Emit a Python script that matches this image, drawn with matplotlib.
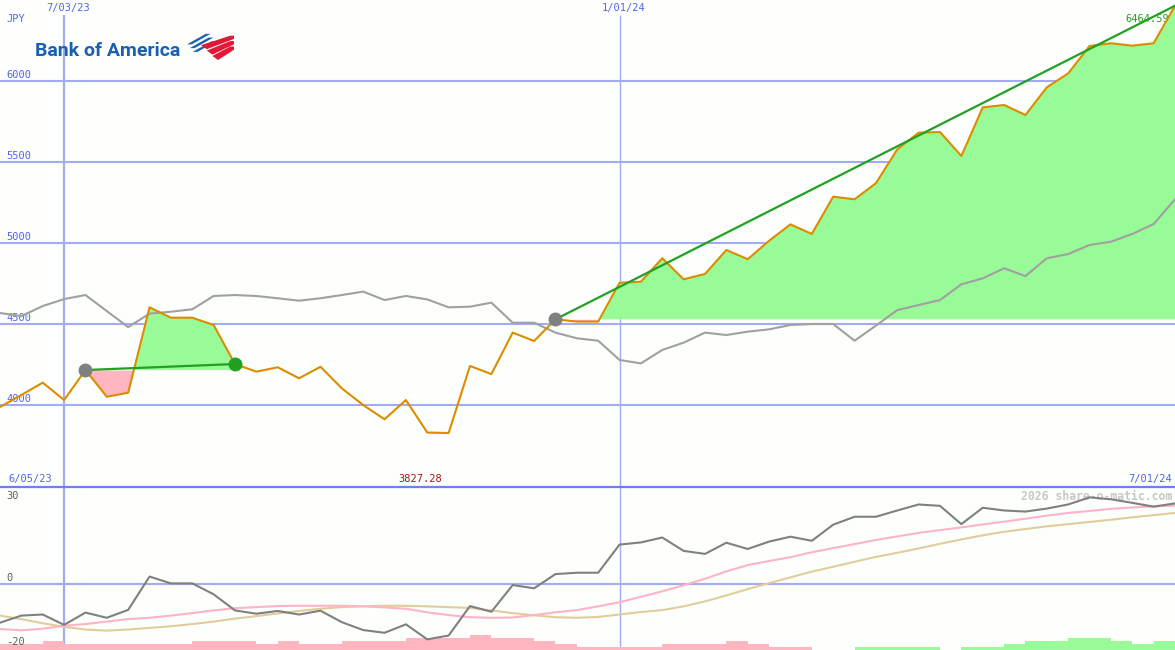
import numpy as np
import matplotlib
matplotlib.use("Agg")
import matplotlib.pyplot as plt
from matplotlib.lines import Line2D
from matplotlib.patches import Polygon

# weekly closes, 6/12/23 .. 7/01/24 (JPY)
price = [3988, 4062, 4138, 4031, 4216, 4051, 4076, 4603, 4539, 4539,
         4494, 4253, 4206, 4233, 4165, 4236, 4103, 4000, 3912, 4031,
         3830, 3827.28, 4241, 4191, 4447, 4395, 4529, 4515, 4515, 4755,
         4761, 4906, 4776, 4809, 4957, 4900, 5014, 5115, 5056, 5286,
         5270, 5369, 5578, 5681, 5685, 5537, 5837, 5852, 5790, 5961,
         6047, 6216, 6233, 6218, 6233, 6464.59]
# comparison index rescaled to the price axis
index_cmp = [4568, 4549, 4611, 4654, 4679, 4580, 4481, 4564, 4576, 4591,
             4673, 4679, 4673, 4659, 4644, 4659, 4679, 4700, 4648, 4673,
             4652, 4603, 4607, 4632, 4508, 4508, 4447, 4412, 4397, 4278,
             4257, 4340, 4385, 4447, 4432, 4453, 4467, 4494, 4500, 4500,
             4397, 4490, 4586, 4617, 4648, 4745, 4782, 4844, 4796, 4906,
             4932, 4988, 5008, 5056, 5117, 5270]
# lower panel
momentum = [-14.3, -11.7, -11.3, -15.1, -10.6, -12.5, -9.6, 2.6, 0.1, 0.1,
            -3.9, -9.8, -11.0, -10.0, -11.3, -9.9, -14.1, -17.0, -18.0, -14.9,
            -20.4, -19.0, -8.2, -10.3, -0.5, -1.7, 3.5, 4.0, 4.0, 14.3,
            15.1, 16.9, 12.0, 10.9, 15.0, 12.7, 15.4, 17.2, 15.7, 21.6,
            24.5, 24.5, 26.8, 29.0, 28.5, 21.8, 27.8, 26.8, 26.4, 27.5,
            29.0, 31.6, 30.9, 29.6, 28.2, 29.4]
avg_fast = [-16.6, -17.1, -16.5, -15.4, -14.8, -13.9, -13.0, -12.5, -11.7, -10.8,
            -9.8, -9.0, -8.6, -8.2, -8.1, -8.1, -8.1, -8.3, -8.7, -9.2,
            -10.5, -11.5, -12.3, -12.5, -12.4, -11.5, -10.5, -9.7, -8.3, -6.8,
            -4.8, -2.8, -0.6, 1.8, 4.5, 6.8, 8.3, 9.7, 11.5, 13.0,
            14.5, 16.0, 17.3, 18.6, 19.6, 20.6, 21.7, 22.7, 23.8, 24.9,
            25.9, 26.6, 27.4, 27.9, 28.3, 28.6]
avg_slow = [-11.7, -13.0, -14.5, -15.8, -16.8, -17.2, -16.8, -16.2, -15.6, -14.8,
            -13.9, -12.8, -11.9, -10.9, -10.0, -9.2, -8.6, -8.3, -8.1, -8.1,
            -8.3, -8.6, -8.9, -9.8, -10.8, -11.6, -12.3, -12.5, -12.2, -11.3,
            -10.4, -9.7, -8.3, -6.5, -4.3, -2.0, 0.2, 2.3, 4.4, 6.2,
            8.0, 9.8, 11.3, 12.9, 14.6, 16.2, 17.7, 19.0, 20.0, 21.0,
            21.8, 22.6, 23.4, 24.3, 25.1, 25.9]
bar_level = [-2, -2, -3, -2, -2, -2, -2, -2, -2, -3, -3, -3, -2, -3, -2, -2,
             -3, -3, -3, -4, -4, -4, -5, -4, -4, -3, -2, -1, -1, -1, -1, -2,
             -2, -2, -3, -2, -1, -1, 0, 0, 1, 1, 1, 1, 0, 1, 1, 2, 3, 3,
             4, 4, 3, 2, 3]

price_ticks = [4000, 4500, 5000, 5500, 6000]
date_marks = [(3, "7/03/23"), (29, "1/01/24")]
trend_segments = [(4, 11), (26, 55)]

bg = "#fcfffc"
grid = "#a3acf2"
txt_blue = "#5563ee"
mono = "DejaVu Sans Mono"

x = np.arange(len(price))
price = np.array(price)

fig = plt.figure(figsize=(11.75, 6.5), dpi=100)
fig.patch.set_facecolor(bg)
ax = fig.add_axes([0, 163 / 650, 1, 487 / 650])
axb = fig.add_axes([0, 0, 1, 163 / 650])
for a in (ax, axb):
    a.set_facecolor(bg)
    a.set_xticks([])
    a.set_yticks([])
    for s in a.spines.values():
        s.set_visible(False)
    a.set_xlim(0, len(price) - 1)

ax.set_ylim(3494, 6500)
axb.set_ylim(-24.3, 35.4)

# grid
for v in price_ticks:
    ax.axhline(v, color=grid, lw=1.5, zorder=1)
    ax.annotate(str(v), xy=(0, v), xycoords=("axes fraction", "data"),
                xytext=(6, 6), textcoords="offset pixels", ha="left", va="center",
                fontsize=7.5, family=mono, color=txt_blue)
for (i, lab), lw in zip(date_marks, [1.6, 1.0]):
    ax.vlines(i, 3494, 6407, color=grid, lw=lw, zorder=1)
    axb.axvline(i, color=grid, lw=lw, zorder=1)
    ax.annotate(lab, xy=(i, 1), xycoords=("data", "axes fraction"),
                xytext=(4, -8), textcoords="offset pixels", ha="center", va="center",
                fontsize=7.5, family=mono, color=txt_blue)
ax.annotate("JPY", xy=(0, 1), xycoords="axes fraction", xytext=(6, -19),
            textcoords="offset pixels", ha="left", va="center",
            fontsize=7.5, family=mono, color=txt_blue)

# trend fills and lines
for s, e in trend_segments:
    xs = x[s:e + 1]
    ys = price[s:e + 1]
    base = price[s]
    ax.fill_between(xs, ys, base, where=ys >= base, interpolate=True,
                    color="#98fb98", lw=0, zorder=2)
    ax.fill_between(xs, ys, base, where=ys <= base, interpolate=True,
                    color="#ffb6c1", lw=0, zorder=2)
    ax.plot([s, e], [price[s], price[e]], color="#22a022", lw=1.6, zorder=5)
    ax.plot(s, price[s], "o", ms=9, color="#808080", zorder=6)
    if e < len(price) - 1:
        ax.plot(e, price[e], "o", ms=9, color="#22a022", zorder=6)

ax.plot(x, index_cmp, color="#a0a0a0", lw=1.5, zorder=3)
ax.plot(x, price, color="#dd8c00", lw=1.5, zorder=4)

imax = int(np.argmax(price))
imin = int(np.argmin(price))
ax.annotate(f"{price[imax]:.2f}", xy=(imax, price[imax]), xytext=(-6, -13),
            textcoords="offset pixels", ha="right", va="center",
            fontsize=7.5, family=mono, color="#22a022")
ax.annotate(f"{price[imin]:.2f}", xy=(imin, 0), xycoords=("data", "axes fraction"),
            xytext=(-28, 8), textcoords="offset pixels", ha="center", va="center",
            fontsize=7.5, family=mono, color="#a01818")
ax.annotate("6/05/23", xy=(0, 0), xycoords="axes fraction", xytext=(8, 8),
            textcoords="offset pixels", ha="left", va="center",
            fontsize=7.5, family=mono, color=txt_blue)
ax.annotate("7/01/24", xy=(1, 0), xycoords="axes fraction", xytext=(-3, 8),
            textcoords="offset pixels", ha="right", va="center",
            fontsize=7.5, family=mono, color=txt_blue)

# panel separator
fig.add_artist(Line2D([0, 1], [163 / 650, 163 / 650], transform=fig.transFigure,
                      color="#6f7ef0", lw=1.6))

# lower panel
axb.axhline(0, color=grid, lw=1.5, zorder=1)
heights = np.array(bar_level) * 1.1
bar_cols = ["#98fb98" if h > 0 else "#ffb6c1" for h in heights]
axb.bar(x[:-1], np.abs(heights), width=1, align="edge", bottom=-24.3,
        color=bar_cols, lw=0, zorder=1.5)
axb.plot(x, avg_slow, color="#e3cc9c", lw=1.5, zorder=3)
axb.plot(x, avg_fast, color="#ffb3c6", lw=1.5, zorder=3)
axb.plot(x, momentum, color="#808080", lw=1.5, zorder=4)
for v, dy in [(30, 6), (0, 6), (-20, -4)]:
    axb.annotate(str(v), xy=(0, v), xycoords=("axes fraction", "data"),
                 xytext=(6, dy), textcoords="offset pixels", ha="left", va="center",
                 fontsize=7.5, family=mono, color="#606060")
axb.annotate("2026 share-o-matic.com", xy=(1, 1), xycoords="axes fraction",
             xytext=(-3, -9), textcoords="offset pixels", ha="right", va="center",
             fontsize=8.3, family=mono, fontweight="bold", color="#c8c8c8")

# logo
fig.text(35 / 1175, 1 - 51 / 650, "Bank of America", fontsize=14, fontweight="bold",
         family="Roboto", color="#1a5fb0", ha="left", va="center")
lg = fig.add_axes([187 / 1175, 1 - 60 / 650, 47 / 1175, 27 / 650])
lg.set_xlim(0, 1)
lg.set_ylim(0, 1)
lg.set_axis_off()
for k in range(3):
    dx, dy = 0.06 * k, -0.14 * k
    lg.add_patch(Polygon([(0.0 + dx, 0.58 + dy), (0.40 + dx, 0.97 + dy),
                          (0.50 + dx, 0.97 + dy), (0.10 + dx, 0.58 + dy)],
                         closed=True, color="#1a5fb0", lw=0))
for k in range(3):
    dy = -0.2 * k
    lg.add_patch(Polygon([(0.30 + 0.12 * k, 0.55 + dy), (0.92, 0.90 + dy),
                          (1.0, 0.90 + dy), (1.0, 0.78 + dy),
                          (0.42 + 0.12 * k, 0.40 + dy)],
                         closed=True, color="#e31837", lw=0))

fig.savefig("out.png", dpi=100, facecolor=bg)
